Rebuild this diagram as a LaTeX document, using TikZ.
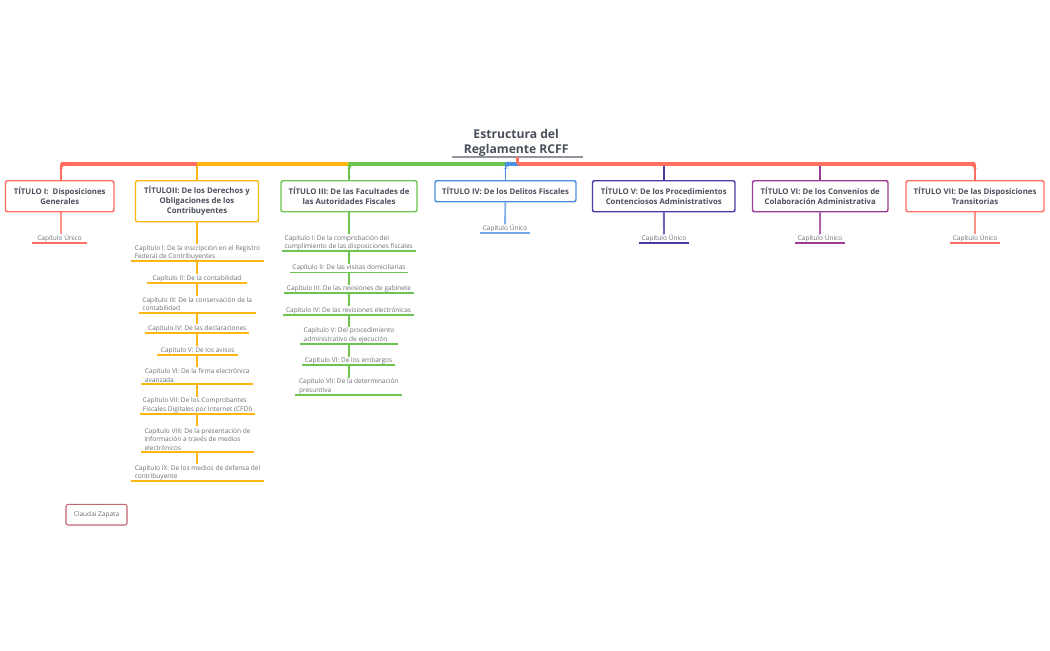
\documentclass[tikz,border=0pt]{standalone}
\usepackage{fontspec}
\setmainfont{Open Sans}
\pgfdeclarelayer{fg}
\pgfsetlayers{main,fg}
\definecolor{cred}{HTML}{FF6F61}
\definecolor{cyel}{HTML}{FFB511}
\definecolor{cgrn}{HTML}{6CC551}
\definecolor{cblu}{HTML}{4A90E2}
\definecolor{cpur}{HTML}{4B3BA6}
\definecolor{cmag}{HTML}{9B3A93}
\definecolor{ctxt}{HTML}{4A4F5C}
\definecolor{csub}{HTML}{6B6F78}
\definecolor{cnote}{HTML}{C4656F}
\tikzset{
 titlebox/.style={draw=#1,line width=1.1pt,rounded corners=1.5pt,fill=white,inner sep=0pt,align=center,text=ctxt,
   font=\fontsize{5.85}{7.5}\selectfont\bfseries},
 subtopic/.style={inner sep=0pt,anchor=south,text=csub,font=\fontsize{4.9}{6.4}\selectfont},
 subline/.style={draw=#1,line width=1.3pt},
 notebox/.style={draw=cnote,line width=0.8pt,rounded corners=1.5pt,inner sep=0pt,text=csub,font=\fontsize{4.9}{6.4}\selectfont},
 link/.style={draw=#1,line width=1.4pt},
 mainlink/.style={draw=#1,line width=3pt},
}
% title box: name, colour, x1, x2, y2, text (top edge is 180)
\newcommand{\tbox}[6]{\begin{pgfonlayer}{fg}\node[titlebox=#2,minimum width=#4*0.75pt-#3*0.75pt,minimum height=#5*0.75pt-135pt,anchor=north] (#1) at ({(#3+#4)/2},180) {#6};\end{pgfonlayer}}
% child: name, colour, x1, x2, yline, height, text
\newcommand{\chld}[7]{\begin{pgfonlayer}{fg}\node[subtopic,minimum width=#4*0.75pt-#3*0.75pt,minimum height=#6*0.75pt-1.5pt,align=center] (#1) at ({(#3+#4)/2},#5) {#7};\end{pgfonlayer}
 \draw[subline=#2] (#1.south west)--(#1.south east);}
% child with left-aligned lines
\newcommand{\chll}[7]{\begin{pgfonlayer}{fg}\node[subtopic,minimum width=#4*0.75pt-#3*0.75pt,minimum height=#6*0.75pt-1.5pt,align=left] (#1) at ({(#3+#4)/2},#5) {#7};\end{pgfonlayer}
 \draw[subline=#2] (#1.south west)--(#1.south east);}
% rounded bus corner: colour, bus coordinate, direction (+1 right, -1 left)
\newcommand{\buscorner}[3]{\fill[#1,rounded corners=2.2pt] (#2) ++({-1*#3},5) -- ++(0,-6.7) -- ++({9*#3},0) -- ++(0,4) -- ++({-7*#3},0) -- ++(0,2.7) -- cycle;}
\begin{document}
\begin{tikzpicture}[x=0.75pt,y=-0.75pt]
\useasboundingbox[fill=white] (0,0) rectangle (1050,650);
% root
\begin{pgfonlayer}{fg}
\node[inner sep=0pt,align=center,text=ctxt,font=\fontsize{9.1}{11.25}\selectfont\bfseries,minimum width=98.25pt,minimum height=20.5pt,anchor=south] (root) at (517.5,157) {Estructura del\hspace*{2pt}\\Reglamente RCFF\hspace*{2pt}};
\end{pgfonlayer}
\draw[draw=ctxt!60!white,line width=0.8pt] (root.south west)--(root.south east);
\coordinate (busy) at (0,163.5);
% titles
\tbox{t1}{cred}{5.5}{114}{211}{TÍTULO I:\ \ Disposiciones\\Generales}
\tbox{t2}{cyel}{135.5}{258.5}{221}{TÍTULOII: De los Derechos y\\Obligaciones de los\\Contribuyentes}
\tbox{t3}{cgrn}{281}{417}{211}{TÍTULO III: De las Facultades de\\las Autoridades Fiscales}
\tbox{t4}{cblu}{435}{576}{201}{TÍTULO IV: De los Delitos Fiscales}
\tbox{t5}{cpur}{592.5}{735}{211}{TÍTULO V: De los Procedimientos\\Contenciosos Administrativos}
\tbox{t6}{cmag}{752.5}{888}{211}{TÍTULO VI: De los Convenios de\\Colaboración Administrativa}
\tbox{t7}{cred}{906}{1044}{211}{TÍTULO VII: De las Disposiciones\\Transitorias}
% bus
\coordinate (c1) at ([xshift=0.9pt]t1.north);
\coordinate (b1) at (c1 |- busy);
\coordinate (b2) at (t2.north |- busy);
\coordinate (b3) at (t3.north |- busy);
\coordinate (b4) at (t4.north |- busy);
\coordinate (b5) at (t5.north |- busy);
\coordinate (b6) at (t6.north |- busy);
\coordinate (b7) at (t7.north |- busy);
\coordinate (broot) at (root.south |- busy);
\draw[link=cyel] (t2.north) -- (b2);
\draw[link=cpur] (t5.north) -- (b5);
\draw[link=cmag] (t6.north) -- (b6);
\draw[link=cred] (c1) -- (b1);
\draw[link=cred] (t7.north) -- (b7);
\draw[link=cgrn] (t3.north) -- (b3);
\draw[link=cblu] (t4.north) -- (b4);
\draw[mainlink=cred] (b1) -- (b2);
\buscorner{cred}{b1}{1}
\draw[mainlink=cyel] (b2) -- (b3);
\draw[mainlink=cgrn] (b3) -- (b4);
\buscorner{cgrn}{b3}{1}
\draw[mainlink=cblu] (b4) -- (broot);
\buscorner{cblu}{b4}{1}
\draw[mainlink=cred] (broot) -- (b7);
\buscorner{cred}{b7}{-1}
\draw[draw=cred,line width=2.4pt] (root.south) -- (broot);
% Titulo I
\chld{a1}{cred}{32}{87}{243}{10}{Capítulo Único}
\draw[link=cred!75!white] (c1 |- t1.south) -- (c1 |- a1.north);
% Titulo II
\chll{y1}{cyel}{131}{264}{261}{18}{Capítulo I: De la inscripción en el Registro\\Federal de Contribuyentes}
\chld{y2}{cyel}{147}{247}{283}{10}{Capítulo II: De la contabilidad}
\chll{y3}{cyel}{139}{255.5}{312.7}{18.5}{Capítulo III: De la conservación de la\\contabilidad}
\chld{y4}{cyel}{145.5}{249}{333}{10}{Capítulo IV: De las declaraciones}
\chld{y5}{cyel}{157.5}{238}{355}{10}{Capítulo V: De los avisos}
\chll{y6}{cyel}{141.5}{253}{384.3}{18.5}{Capítulo VI: De la firma electrónica\\avanzada}
\chll{y7}{cyel}{140}{255}{414}{18.5}{Capítulo VII: De los Comprobantes\\Fiscales Digitales por Internet (CFDI)}
\chll{y8}{cyel}{141}{254}{452}{27}{Capítulo VIII: De la presentación de\\información a través de medios\\electrónicos}
\chll{y9}{cyel}{131}{264}{481}{18}{Capítulo IX: De los medios de defensa del\\contribuyente}
\draw[link=cyel] (t2.south) -- (t2.south |- y1.north);
\foreach \p/\q in {y1/y2,y2/y3,y3/y4,y4/y5,y5/y6,y6/y7,y7/y8,y8/y9}
  \draw[link=cyel] (t2.south |- \p.south) -- (t2.south |- \q.north);
% Titulo III
\chll{g1}{cgrn}{282}{415.5}{251}{18}{Capítulo I: De la comprobación del\\cumplimiento de las disposiciones fiscales}
\chld{g2}{cgrn}{290}{408}{272.5}{10}{Capítulo II: De las visitas domiciliarias}
\chld{g3}{cgrn}{284}{414}{293}{9}{Capítulo III: De las revisiones de gabinete}
\chld{g4}{cgrn}{283}{414}{315}{10}{Capítulo IV: De las revisiones electrónicas}
\chll{g5}{cgrn}{300}{398}{344}{18.5}{Capítulo V: Del procedimiento\\administrativo de ejecución}
\chld{g6}{cgrn}{302}{395}{365}{9.5}{Capítulo VI: De los embargos}
\chll{g7}{cgrn}{295.5}{402}{395}{18.5}{Capítulo VII: De la determinación\\presuntiva}
\draw[link=cgrn] (t3.south) -- (t3.south |- g1.north);
\foreach \p/\q in {g1/g2,g2/g3,g3/g4,g4/g5,g5/g6,g6/g7}
  \draw[link=cgrn] (t3.south |- \p.south) -- (t3.south |- \q.north);
% Titulos IV-VII
\chld{b41}{cblu!80!white}{480}{530}{233}{10}{Capítulo Único}
\draw[link=cblu!70!white] (t4) -- (b41);
\chld{p1}{cpur}{639}{689}{243}{10}{Capítulo Único}
\draw[link=cpur!80!white] (t5) -- (p1);
\chld{m1}{cmag}{795}{845}{243}{10}{Capítulo Único}
\draw[link=cmag!80!white] (t6) -- (m1);
\chld{r1}{cred}{950}{1000}{243}{10}{Capítulo Único}
\draw[link=cred!75!white] (t7) -- (r1);
% note
\begin{pgfonlayer}{fg}
\node[notebox,minimum width=45.75pt,minimum height=15.4pt] (note) at (96.5,514.7) {Claudai Zapata};
\end{pgfonlayer}
\end{tikzpicture}
\end{document}
